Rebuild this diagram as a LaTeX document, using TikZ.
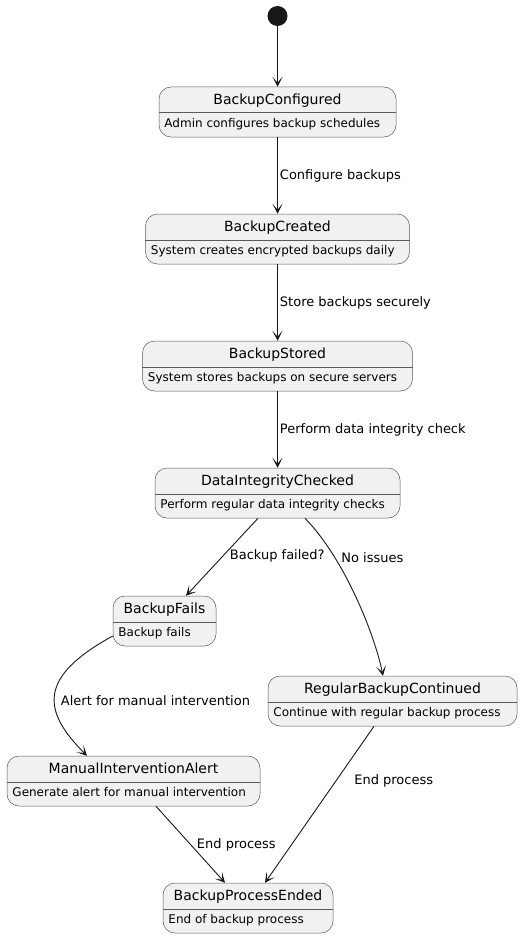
\documentclass[tikz,border=0pt]{standalone}
\usepackage{fontspec}
\setmainfont{DejaVu Sans}
\usetikzlibrary{arrows.meta}
\definecolor{stfill}{HTML}{F1F1F1}
\definecolor{stline}{HTML}{181818}
\definecolor{stedge}{HTML}{5A5A5A}

\tikzset{
  statebox/.style={draw=stedge, fill=stfill, line width=0.5pt, rounded corners=12pt,
    minimum height=50pt, inner sep=0pt},
  statetitle/.style={font=\fontsize{14}{16}\selectfont, anchor=base, inner sep=0pt},
  statedesc/.style={font=\fontsize{12}{14}\selectfont, anchor=base west, inner sep=0pt},
  divider/.style={draw=stedge, line width=0.5pt},
  trans/.style={draw=stline, line width=0.9pt, -{Stealth[length=10pt, width=10pt, inset=6pt]}},
  edgelabel/.style={font=\fontsize{13}{15}\selectfont, inner sep=2pt}
}

\begin{document}
\begin{tikzpicture}[x=1pt, y=-1pt]
\useasboundingbox (0,0) rectangle (522,939);

% start point
\node [circle, fill=stline, minimum size=20pt, inner sep=0pt] (start) at (277.5,16) {};

% states
\node [statebox, minimum width=237pt] (configured) at (277.5,112) {};
\node [statetitle] (configuredtitle) at ([yshift=-18pt]configured.north) {BackupConfigured};
\draw [divider] ([yshift=-26pt]configured.north west) -- ([yshift=-26pt]configured.north east);
\node [statedesc] (configureddesc) at ([xshift=5.5pt,yshift=-41pt]configured.north west) {Admin configures backup schedules};

\node [statebox, minimum width=264pt] (created) at (277.5,239) {};
\node [statetitle] (createdtitle) at ([yshift=-18pt]created.north) {BackupCreated};
\draw [divider] ([yshift=-26pt]created.north west) -- ([yshift=-26pt]created.north east);
\node [statedesc] (createddesc) at ([xshift=5.5pt,yshift=-41pt]created.north west) {System creates encrypted backups daily};

\node [statebox, minimum width=270pt] (stored) at (277.5,366) {};
\node [statetitle] (storedtitle) at ([yshift=-18pt]stored.north) {BackupStored};
\draw [divider] ([yshift=-26pt]stored.north west) -- ([yshift=-26pt]stored.north east);
\node [statedesc] (storeddesc) at ([xshift=5.5pt,yshift=-41pt]stored.north west) {System stores backups on secure servers};

\node [statebox, minimum width=245pt] (checked) at (277.5,493) {};
\node [statetitle] (checkedtitle) at ([yshift=-18pt]checked.north) {DataIntegrityChecked};
\draw [divider] ([yshift=-26pt]checked.north west) -- ([yshift=-26pt]checked.north east);
\node [statedesc] (checkeddesc) at ([xshift=5.5pt,yshift=-41pt]checked.north west) {Perform regular data integrity checks};

\node [statebox, minimum width=103pt] (fails) at (164.5,621) {};
\node [statetitle] (failstitle) at ([yshift=-18pt]fails.north) {BackupFails};
\draw [divider] ([yshift=-26pt]fails.north west) -- ([yshift=-26pt]fails.north east);
\node [statedesc] (failsdesc) at ([xshift=5.5pt,yshift=-41pt]fails.north west) {Backup fails};

\node [statebox, minimum width=249pt] (regular) at (392.5,701) {};
\node [statetitle] (regulartitle) at ([yshift=-18pt]regular.north) {RegularBackupContinued};
\draw [divider] ([yshift=-26pt]regular.north west) -- ([yshift=-26pt]regular.north east);
\node [statedesc] (regulardesc) at ([xshift=5.5pt,yshift=-41pt]regular.north west) {Continue with regular backup process};

\node [statebox, minimum width=253pt] (manual) at (133.5,781) {};
\node [statetitle] (manualtitle) at ([yshift=-18pt]manual.north) {ManualInterventionAlert};
\draw [divider] ([yshift=-26pt]manual.north west) -- ([yshift=-26pt]manual.north east);
\node [statedesc] (manualdesc) at ([xshift=5.5pt,yshift=-41pt]manual.north west) {Generate alert for manual intervention};

\node [statebox, minimum width=170pt] (ended) at (248,908) {};
\node [statetitle] (endedtitle) at ([yshift=-18pt]ended.north) {BackupProcessEnded};
\draw [divider] ([yshift=-26pt]ended.north west) -- ([yshift=-26pt]ended.north east);
\node [statedesc] (endeddesc) at ([xshift=5.5pt,yshift=-41pt]ended.north west) {End of backup process};

% transitions
\draw [trans] (start) -- (configured);
\draw [trans] (configured) -- node [edgelabel, right] {Configure backups} (created);
\draw [trans] (created) -- node [edgelabel, right] {Store backups securely} (stored);
\draw [trans] (stored) -- node [edgelabel, right] {Perform data integrity check} (checked);
\draw [trans] ([xshift=-19.5pt]checked.south) -- node [edgelabel, pos=0.48, right=4pt] {Backup failed?} ([xshift=21.5pt]fails.north);
\draw [trans] ([xshift=27.5pt]checked.south) .. controls +(40,41) and +(-8,-40) .. node [edgelabel, pos=0.27, right=4pt] {No issues} ([xshift=-9.5pt]regular.north);
\draw [trans] ([yshift=-15pt]fails.west) .. controls +(-75,41) and +(-45,-45) .. node [edgelabel, pos=0.55, right=4pt] {Alert for manual intervention} ([xshift=-46.5pt]manual.north);
\draw [trans] ([xshift=22.5pt]manual.south) -- node [edgelabel, pos=0.5, right=4pt] {End process} ([xshift=-23pt]ended.north);
\draw [trans] ([xshift=-18.5pt]regular.south) -- node [edgelabel, pos=0.35, right=16pt] {End process} ([xshift=17pt]ended.north);
\end{tikzpicture}
\end{document}
